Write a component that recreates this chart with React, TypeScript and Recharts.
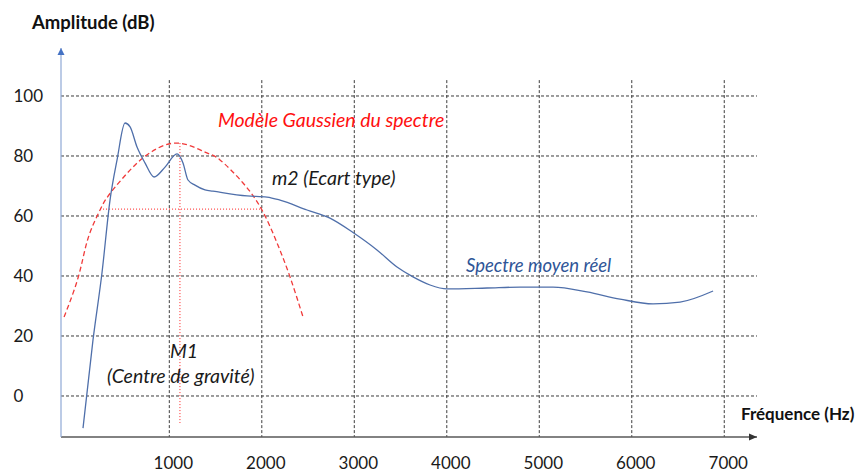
import React from 'react';
import { ComposedChart, Line, XAxis, YAxis, ReferenceLine, ReferenceDot } from 'recharts';

// Frequency ticks (Hz) and amplitude ticks (dB)
const freqTicks = [1000, 2000, 3000, 4000, 5000, 6000, 7000];
const ampTicks = [0, 20, 40, 60, 80, 100];

// Measured mean spectrum (Spectre moyen réel)
const spectrumFreq = [67, 175, 272, 359, 435, 521, 576, 651, 737, 835, 954, 1083, 1148, 1202, 1278, 1386, 1472, 1840, 2056, 2197, 2489, 2737, 2986, 3245, 3462, 3635, 3819, 4002, 4435, 4792, 5149, 5516, 5873, 6230, 6522, 6879];
const spectrumAmp = [-10.7, 18.7, 41, 65.3, 78.7, 91, 89.7, 83, 77.7, 73, 76.3, 80.7, 77.7, 72, 70.3, 68.7, 68.3, 66.7, 66.3, 65.3, 62, 59.3, 54.5, 48.7, 43, 39.7, 37, 35.7, 36, 36.3, 36.3, 34.7, 32.3, 30.7, 31.3, 35];

// Gaussian model of the spectrum (Modèle Gaussien du spectre)
const gaussFreq = [-138, 19, 121, 251, 359, 597, 813, 1094, 1386, 1548, 1797, 2002, 2165, 2305, 2446];
const gaussAmp = [26.3, 40, 52.5, 62, 67.5, 76, 81.5, 84.3, 81.3, 78.7, 71, 62, 51, 39.7, 26.3];

// M1 (centre of gravity) and m2 (standard deviation) markers
const m1Freq = 1115;
const m1Range = [84.3, -9];
const m2Amp = 62.3;
const m2Range = [251, 2002];

// Axis extents
const xDomain = [-171, 7354];
const yDomain = [-13.67, 116];
const vGridTop = 105.3;

const spectrum = spectrumFreq.map((f, i) => ({ f, v: spectrumAmp[i] }));
const gauss = gaussFreq.map((f, i) => ({ f, v: gaussAmp[i] }));

const annotations = [
  { text: 'Modèle Gaussien du spectre', f: 1526, v: 89.7, color: '#FF1010', size: 19.5 },
  { text: 'm2 (Ecart type)', f: 2110, v: 70.3, color: '#1a1a1a', size: 19.5 },
  { text: 'Spectre moyen réel', f: 4208, v: 41.4, color: '#2F5597', size: 18.5 },
  { text: 'M1', f: 1007, v: 12.6, color: '#1a1a1a', size: 19.5 },
  { text: '(Centre de gravité)', f: 327, v: 4.2, color: '#1a1a1a', size: 19.5 },
];

const FONT = 'Lato, "Open Sans", sans-serif';
const GRID = '#3c3c3c';

const XTick = (props: any) => {
  const { x, y, payload } = props;
  return (
    <text x={x + 4} y={y + 32} textAnchor="middle" fontSize={17} fontFamily={FONT} fill="#1a1a1a">
      {payload.value}
    </text>
  );
};

const YTick = (props: any) => {
  const { y, payload } = props;
  return (
    <text x={5.5} y={y} dy="0.36em" textAnchor="start" fontSize={17} fontFamily={FONT} fill="#1a1a1a">
      {payload.value}
    </text>
  );
};

export default function App() {
  return (
    <div style={{ position: 'relative', width: 858, height: 465 }}>
      <ComposedChart width={858} height={465} margin={{ top: 40, right: 109, bottom: 0, left: 0 }}>
        <XAxis
          type="number"
          dataKey="f"
          domain={xDomain}
          ticks={freqTicks}
          allowDataOverflow
          tickLine={false}
          tickSize={0}
          tickMargin={0}
          height={36}
          axisLine={{ stroke: '#595959', strokeWidth: 1.5 }}
          tick={<XTick />}
        />
        <YAxis
          type="number"
          domain={yDomain}
          ticks={ampTicks}
          allowDataOverflow
          tickLine={false}
          tickSize={0}
          width={53}
          axisLine={{ stroke: '#8FA8D6', strokeWidth: 1.2 }}
          tick={<YTick />}
        />
        {ampTicks.map((v) => (
          <ReferenceLine key={'h' + v} y={v} stroke={GRID} strokeDasharray="3 2" strokeWidth={1} />
        ))}
        {freqTicks.map((f) => (
          <ReferenceLine
            key={'v' + f}
            segment={[{ x: f, y: vGridTop }, { x: f, y: yDomain[0] }]}
            stroke={GRID}
            strokeDasharray="3 2"
            strokeWidth={1}
          />
        ))}
        <ReferenceLine
          segment={[{ x: m1Freq, y: m1Range[0] }, { x: m1Freq, y: m1Range[1] }]}
          stroke="#FF2020"
          strokeDasharray="1 2"
          strokeWidth={1}
        />
        <ReferenceLine
          segment={[{ x: m2Range[0], y: m2Amp }, { x: m2Range[1], y: m2Amp }]}
          stroke="#FF2020"
          strokeDasharray="1 2"
          strokeWidth={1}
        />
        <Line
          data={gauss}
          dataKey="v"
          type="natural"
          stroke="#F03A3A"
          strokeWidth={1.3}
          strokeDasharray="5 3"
          dot={false}
          activeDot={false}
          isAnimationActive={false}
        />
        <Line
          data={spectrum}
          dataKey="v"
          type="monotone"
          stroke="#4F6FAA"
          strokeWidth={1.3}
          dot={false}
          activeDot={false}
          isAnimationActive={false}
        />
        <ReferenceDot
          x={xDomain[1]}
          y={yDomain[0]}
          ifOverflow="visible"
          shape={(p: any) => <path d={`M${p.cx} ${p.cy} l-8 -3.5 l0 7 z`} fill="#333" />}
        />
        <ReferenceDot
          x={xDomain[0]}
          y={yDomain[1]}
          ifOverflow="visible"
          shape={(p: any) => <path d={`M${p.cx} ${p.cy} l-3.5 7 l7 0 z`} fill="#4472C4" />}
        />
        {annotations.map((a) => (
          <ReferenceDot
            key={a.text}
            x={a.f}
            y={a.v}
            ifOverflow="visible"
            shape={(p: any) => (
              <text x={p.cx} y={p.cy} fontSize={a.size} fontStyle="italic" fontFamily={FONT} fill={a.color}>
                {a.text}
              </text>
            )}
          />
        ))}
      </ComposedChart>
      <svg width={858} height={465} style={{ position: 'absolute', left: 0, top: 0, pointerEvents: 'none' }}>
        <text x={24} y={21} fontSize={18.5} fontWeight="bold" fontFamily={FONT} fill="#111">
          Amplitude (dB)
        </text>
        <text x={733} y={412} fontSize={17} fontWeight="bold" fontFamily={FONT} fill="#111">
          Fréquence (Hz)
        </text>
      </svg>
    </div>
  );
}
